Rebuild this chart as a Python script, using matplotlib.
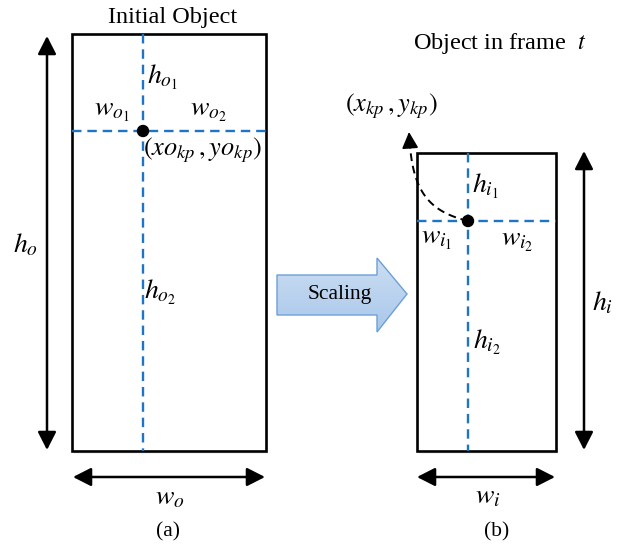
import numpy as np
import matplotlib
matplotlib.use('Agg')
import matplotlib.pyplot as plt
from matplotlib.patches import Rectangle, Polygon, FancyArrowPatch, Circle

plt.rcParams['font.family'] = ['Liberation Serif', 'DejaVu Serif']
plt.rcParams['mathtext.fontset'] = 'stix'

# boxes (pixel coords, y grows downward): left, top, right, bottom
box_o = (72, 34, 266, 451)
box_i = (417, 153, 556, 451)
# keypoint (split lines) inside each box
kp_o = (143, 131)
kp_i = (468, 221)

titles = [("Initial Object", 173, 17), ("Object in frame  $t$", 500, 43)]
captions = [("(a)", 168, 532), ("(b)", 497, 532)]
labels_o = [(r"$h_{o_1}$", 162, 77), (r"$w_{o_1}$", 112, 112), (r"$w_{o_2}$", 208, 112),
            (r"$h_{o_2}$", 160, 292), (r"$h_o$", 25, 245), (r"$w_o$", 170, 498)]
labels_i = [(r"$h_{i_1}$", 485, 186), (r"$w_{i_1}$", 437, 240), (r"$w_{i_2}$", 517, 241),
            (r"$h_{i_2}$", 487, 342), (r"$h_i$", 603, 303), (r"$w_i$", 488, 497)]

blue = '#1f74c4'
fig = plt.figure(figsize=(6.28, 5.44), dpi=100)
ax = fig.add_axes([0, 0, 1, 1])
ax.set_xlim(0, 628)
ax.set_ylim(544, 0)
ax.axis('off')


def draw_box(b, kp):
    l, t, r, bt = b
    ax.add_patch(Rectangle((l + 2, t + 3), r - l, bt - t, fc='#eef3fa', ec='none', zorder=1))
    ax.add_patch(Rectangle((l, t), r - l, bt - t, fc='white', ec='black', lw=1.9, zorder=2))
    ax.plot([kp[0], kp[0]], [t, bt], color=blue, lw=1.7, ls=(0, (4, 2.5)), zorder=3)
    ax.plot([l, r], [kp[1], kp[1]], color=blue, lw=1.7, ls=(0, (4, 2.5)), zorder=3)
    ax.add_patch(Circle(kp, 5.5, color='black', zorder=5))


def dbl_arrow(p0, p1):
    ax.add_patch(FancyArrowPatch(p0, p1, arrowstyle='<|-|>,head_length=0.55,head_width=0.28',
                                 mutation_scale=20, color='black', lw=1.8,
                                 shrinkA=0, shrinkB=0, zorder=4))


draw_box(box_o, kp_o)
draw_box(box_i, kp_i)

dbl_arrow((47, 36), (47, 450))
dbl_arrow((73, 477), (265, 477))
dbl_arrow((584, 151), (584, 450))
dbl_arrow((417, 477), (555, 477))

# curved dashed arrow from keypoint to its label
verts = [kp_i, (432, 212), (414, 195), (410, 146)]
tt = np.linspace(0, 1, 60)[:, None]
P = np.array(verts, dtype=float)
curve = ((1 - tt) ** 3) * P[0] + 3 * ((1 - tt) ** 2) * tt * P[1] + 3 * (1 - tt) * tt ** 2 * P[2] + tt ** 3 * P[3]
ax.plot(curve[:, 0], curve[:, 1], color='black', lw=1.4, ls=(0, (4, 2.5)), zorder=4)
ax.add_patch(FancyArrowPatch((410, 146), (409, 132), arrowstyle='-|>,head_length=0.5,head_width=0.25',
                             mutation_scale=20, color='black', lw=1.2, shrinkA=0, shrinkB=0, zorder=4))

# Scaling block arrow with gradient fill
arr = [(277, 275), (377, 275), (377, 258), (407, 294), (377, 332), (377, 315), (277, 315)]
poly = Polygon(arr, closed=True, fc='none', ec='#6d9fd6', lw=1.0, zorder=6)
ax.add_patch(poly)
grad = np.linspace(0, 1, 100)[:, None] * np.ones((1, 10))
c_top = np.array([0.80, 0.87, 0.95])
c_bot = np.array([0.66, 0.78, 0.92])
img = c_top[None, None, :] * (1 - grad[..., None]) + c_bot[None, None, :] * grad[..., None]
im = ax.imshow(img, extent=(277, 407, 332, 258), aspect='auto', zorder=5, interpolation='bilinear')
im.set_clip_path(poly)
ax.text(340, 294, "Scaling", fontsize=15.5, ha='center', va='center', zorder=7)

for s, x, y in titles:
    ax.text(x, y, s, fontsize=17.5, ha='center', va='center')
for s, x, y in captions:
    ax.text(x, y, s, fontsize=15.5, ha='center', va='center')
for s, x, y in labels_o + labels_i:
    ax.text(x, y, s, fontsize=20, ha='center', va='center', zorder=7)

ax.text(203, 150, r"$(xo_{kp}\,,yo_{kp})$", fontsize=19, ha='center', va='center', zorder=7)
ax.text(391, 106, r"$(x_{kp}\,,y_{kp})$", fontsize=19, ha='center', va='center', zorder=7)

fig.savefig('out.png', dpi=100)
